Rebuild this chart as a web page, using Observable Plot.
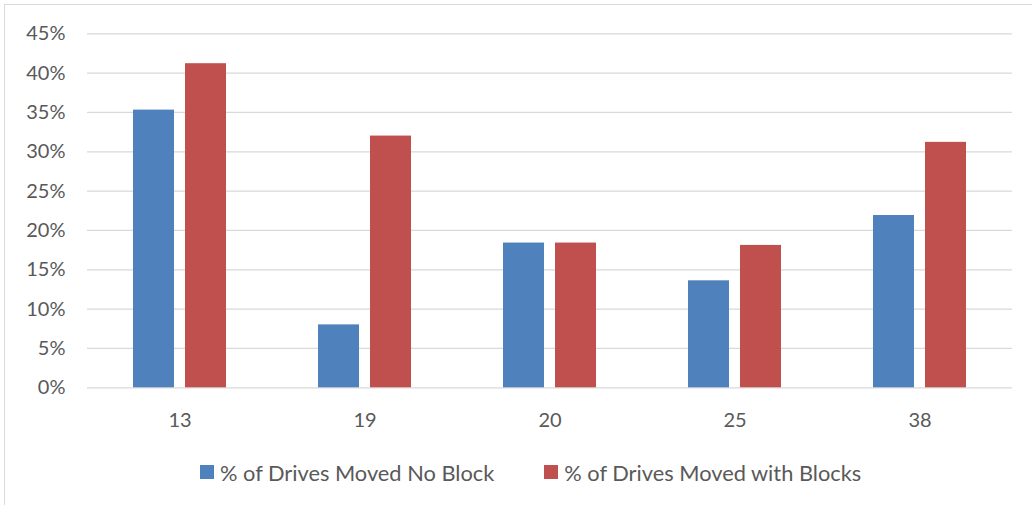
<!DOCTYPE html>
<html>
<head>
<meta charset="utf-8">
<script src="https://cdn.jsdelivr.net/npm/d3@7"></script>
<script src="https://cdn.jsdelivr.net/npm/@observablehq/plot@0.6"></script>
<style>
  html, body { margin: 0; padding: 0; background: #fff; }
  #wrap { position: relative; width: 1032px; height: 505px; overflow: hidden; font-family: Lato, "Liberation Sans", sans-serif; color: #595959; }
  #frame { position: absolute; left: 4px; top: 4px; width: 1100px; height: 600px; border-top: 1.5px solid #d9d9d9; border-left: 1.5px solid #d9d9d9; box-sizing: border-box; }
  #chart { position: absolute; left: 0; top: 0; }
  #legend { position: absolute; left: 200px; top: 440px; height: 64px; display: flex; align-items: center; font-size: 21.8px; white-space: nowrap; }
  .item { display: flex; align-items: center; }
  .sw { width: 14px; height: 14px; margin-right: 6px; }
</style>
</head>
<body>
<div id="wrap">
  <div id="frame"></div>
  <div id="chart"></div>
  <div id="legend"></div>
</div>
<script>
const categories = ["13", "19", "20", "25", "38"];
const seriesNames = ["% of Drives Moved No Block", "% of Drives Moved with Blocks"];
const noBlock = [0.353, 0.080, 0.184, 0.136, 0.219];
const withBlocks = [0.412, 0.320, 0.184, 0.181, 0.312];
const yTicks = [0, 0.05, 0.10, 0.15, 0.20, 0.25, 0.30, 0.35, 0.40, 0.45];
const yTickLabels = ["0%", "5%", "10%", "15%", "20%", "25%", "30%", "35%", "40%", "45%"];
const colors = ["#4F81BD", "#C0504D"];

const seriesValues = [noBlock, withBlocks];
const data = categories.flatMap((c, i) =>
  seriesNames.map((s, j) => ({category: c, series: s, value: seriesValues[j][i]}))
);

const chart = Plot.plot({
  width: 1032,
  height: 440,
  marginLeft: 85,
  marginRight: 17.6,
  marginTop: 33.3,
  marginBottom: 52.7,
  style: {fontFamily: "Lato, 'Liberation Sans', sans-serif", fontSize: "20px", color: "#595959", background: "transparent", overflow: "visible"},
  fx: {domain: categories, padding: 0, label: null, tickSize: 0, tickPadding: 25},
  x: {domain: seriesNames, paddingInner: 0.2075, paddingOuter: 0.857, axis: null},
  y: {domain: [0, 0.45], label: null, axis: null},
  color: {domain: seriesNames, range: colors},
  marks: [
    Plot.ruleY(yTicks, {stroke: "#d9d9d9", strokeWidth: 1.3}),
    Plot.barY(data, {fx: "category", x: "series", y: "value", fill: "series"}),
    Plot.axisY(yTicks, {facetAnchor: "left", tickSize: 0, tickPadding: 22, label: null,
      tickFormat: d => yTickLabels[yTicks.indexOf(d)]})
  ]
});
document.getElementById("chart").appendChild(chart);

const legend = document.getElementById("legend");
seriesNames.forEach((s, i) => {
  const item = document.createElement("div");
  item.className = "item";
  if (i > 0) item.style.marginLeft = "50px";
  const sw = document.createElement("div");
  sw.className = "sw";
  sw.style.background = colors[i];
  const t = document.createElement("span");
  t.textContent = s;
  item.appendChild(sw);
  item.appendChild(t);
  legend.appendChild(item);
});
</script>
</body>
</html>
